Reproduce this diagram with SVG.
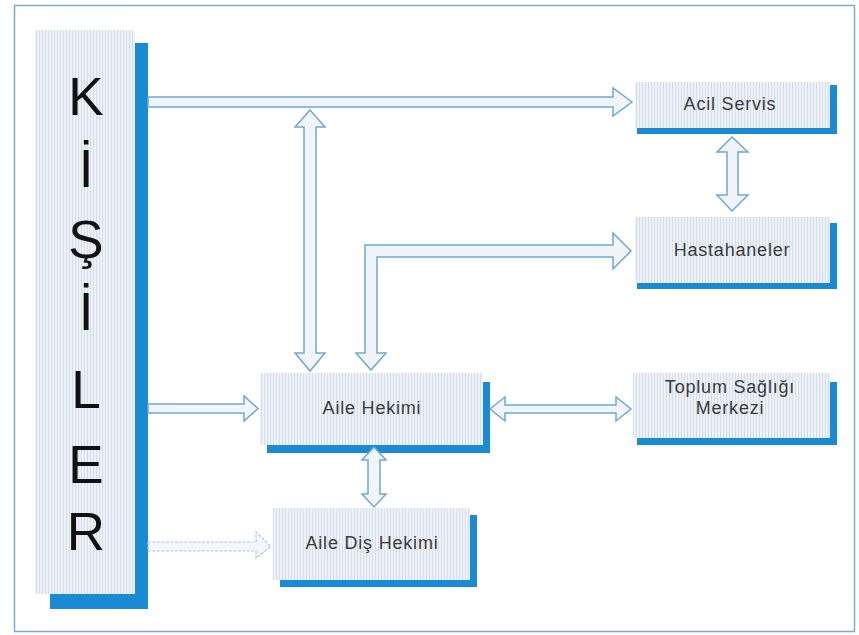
<svg xmlns="http://www.w3.org/2000/svg" width="859" height="635" viewBox="0 0 859 635">
<defs>
<pattern id="hatch" width="3" height="4" patternUnits="userSpaceOnUse">
<rect width="3" height="4" fill="#eef2f8"/>
<rect x="0" y="0" width="1" height="4" fill="#d3deeb"/>
</pattern>
<style>
.frame{fill:none;stroke:#7aaad0;stroke-width:1.5}
.panel{fill:url(#hatch)}
.shadow{fill:#1a8ad4}
.lbl{font-family:"Liberation Sans",Arial,sans-serif;font-size:18px;fill:#3a3a3a;text-anchor:middle;letter-spacing:0.8px}
.big{font-family:"Liberation Sans",Arial,sans-serif;font-size:53px;fill:#111;text-anchor:middle}
.arr{fill:#f1f5fa;stroke:#6fa8d6;stroke-width:1.5;stroke-linejoin:miter}
.arr-faint{fill:#f3f6fa;stroke:#a9c8e3;stroke-width:1.2;stroke-dasharray:3 1.5}
</style>
</defs>
<rect width="859" height="635" fill="#ffffff"/>
<rect class="frame" x="14.5" y="5.5" width="840" height="626"/>

<g id="kisiler">
<rect class="shadow" x="50" y="43" width="98" height="566"/>
<rect class="panel" x="35" y="30" width="100" height="564"/>
<text class="big" x="86" y="115">K</text>
<text class="big" x="86" y="187">İ</text>
<text class="big" x="86" y="258">Ş</text>
<text class="big" x="86" y="330">İ</text>
<text class="big" x="86" y="408">L</text>
<text class="big" x="86" y="483">E</text>
<text class="big" x="86" y="550">R</text>
</g>

<g id="acil-servis">
<rect class="shadow" x="637" y="85" width="200" height="49"/>
<rect class="panel" x="635" y="82" width="195" height="46"/>
<text class="lbl" x="730" y="110">Acil Servis</text>
</g>

<g id="hastahaneler">
<rect class="shadow" x="637" y="223" width="200" height="66"/>
<rect class="panel" x="635" y="217" width="195" height="66"/>
<text class="lbl" x="732" y="256">Hastahaneler</text>
</g>

<g id="aile-hekimi">
<rect class="shadow" x="267" y="382" width="223" height="71"/>
<rect class="panel" x="260" y="373" width="223" height="72"/>
<text class="lbl" x="372" y="414">Aile Hekimi</text>
</g>

<g id="toplum-sagligi-merkezi">
<rect class="shadow" x="637" y="382" width="200" height="63"/>
<rect class="panel" x="633" y="373" width="197" height="65"/>
<text class="lbl" x="730" y="393">Toplum Sağlığı</text>
<text class="lbl" x="730" y="414">Merkezi</text>
</g>

<g id="aile-dis-hekimi">
<rect class="shadow" x="280" y="515" width="197" height="72"/>
<rect class="panel" x="273" y="508" width="197" height="72"/>
<text class="lbl" x="372" y="549">Aile Diş Hekimi</text>
</g>

<g id="connectors">
<polygon class="arr" points="148,97 613,97 613,88 632,102 613,116 613,107 148,107"/>
<polygon class="arr" points="310,110 325,127 316,127 316,353 325,353 310,371 295,353 304,353 304,127 295,127"/>
<polygon class="arr" points="365,245 613,245 613,233 631,251 613,269 613,257 377,257 377,353 386,353 371,370 356,353 365,353"/>
<polygon class="arr" points="732,137 748,152 738,152 738,195 748,195 732,211 717,195 727,195 727,152 717,152"/>
<polygon class="arr" points="148,404 244,404 244,396 258,408.5 244,421 244,413 148,413"/>
<polygon class="arr" points="490,409 505,397 505,405 616,405 616,397 631,409 616,421 616,413 505,413 505,421"/>
<polygon class="arr" points="374,447 386,460 380,460 380,494 386,494 374,507 362,494 368,494 368,460 362,460"/>
<polygon class="arr-faint" points="148,542 256,542 256,532 271,546.5 256,558 256,551 148,551"/>
</g>
</svg>
